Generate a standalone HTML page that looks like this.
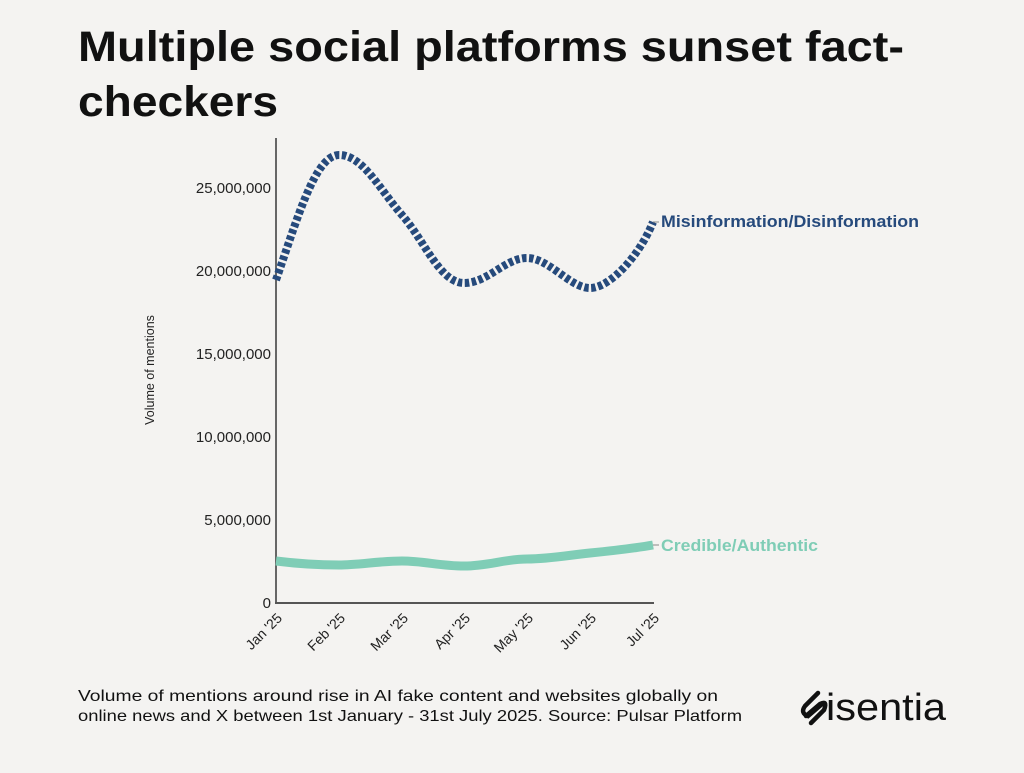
<!DOCTYPE html>
<html><head><meta charset="utf-8"><style>
body{margin:0;background:#f4f3f1;width:1024px;height:768px;overflow:hidden;font-family:"Liberation Sans",sans-serif}
</style></head><body>
<svg width="1024" height="768" viewBox="0 0 1024 768" xmlns="http://www.w3.org/2000/svg">
<rect width="1024" height="768" fill="#f4f3f1"/>
<text x="78" y="61" font-size="43" font-weight="bold" fill="#111" textLength="826" lengthAdjust="spacingAndGlyphs">Multiple social platforms sunset fact-</text>
<text x="78" y="116" font-size="43" font-weight="bold" fill="#111" textLength="200" lengthAdjust="spacingAndGlyphs">checkers</text>
<g font-size="15" fill="#222" text-anchor="end">
<text x="271" y="193">25,000,000</text>
<text x="271" y="276">20,000,000</text>
<text x="271" y="359">15,000,000</text>
<text x="271" y="442">10,000,000</text>
<text x="271" y="525">5,000,000</text>
<text x="271" y="608">0</text>
</g>
<text transform="translate(154,370) rotate(-90)" font-size="12.5" fill="#222" text-anchor="middle">Volume of mentions</text>
<line x1="276" y1="138" x2="276" y2="604" stroke="#666" stroke-width="2"/>
<line x1="275" y1="603" x2="654" y2="603" stroke="#555" stroke-width="2"/>
<g font-size="14" fill="#222" text-anchor="end">
<text transform="translate(283,619) rotate(-45)">Jan '25</text>
<text transform="translate(346,619) rotate(-45)">Feb '25</text>
<text transform="translate(409,619) rotate(-45)">Mar '25</text>
<text transform="translate(471,619) rotate(-45)">Apr '25</text>
<text transform="translate(534,619) rotate(-45)">May '25</text>
<text transform="translate(597,619) rotate(-45)">Jun '25</text>
<text transform="translate(660,619) rotate(-45)">Jul '25</text>
</g>
<path d="M276,280 C297,220 315,155 339,155 S380,190 402,215 S440,283 464,283 S505,258 527,258 S570,288 590,288 S640,255 653,222" fill="none" stroke="#264a7c" stroke-width="8" stroke-dasharray="4.5 2.5"/>
<path d="M276,561 C300,564 320,565 339,565 S380,561 402,561 S440,566 464,566 S505,559 527,559 S570,555 590,553 S630,549 653,545" fill="none" stroke="#7fcdb6" stroke-width="9"/>
<line x1="653" y1="222" x2="659" y2="222" stroke="#888"/>
<line x1="653" y1="545" x2="659" y2="545" stroke="#888"/>
<text x="661" y="227" font-size="16.5" font-weight="bold" fill="#264a7c" textLength="258" lengthAdjust="spacingAndGlyphs">Misinformation/Disinformation</text>
<text x="661" y="551" font-size="16.5" font-weight="bold" fill="#7fcdb6" textLength="157" lengthAdjust="spacingAndGlyphs">Credible/Authentic</text>
<text x="78" y="701" font-size="16" fill="#111" textLength="640" lengthAdjust="spacingAndGlyphs">Volume of mentions around rise in AI fake content and websites globally on</text>
<text x="78" y="721" font-size="16" fill="#111" textLength="664" lengthAdjust="spacingAndGlyphs">online news and X between 1st January - 31st July 2025. Source: Pulsar Platform</text>
<g stroke="#111" stroke-width="4.5" fill="none" stroke-linecap="round">
<path d="M818,693 L805,706 Q800,713 808,716 L822,704"/>
<path d="M806,716 L820,704 Q828,700 824,710 L811,723"/>
</g>
<text x="826" y="720" font-size="38" fill="#111" textLength="120" lengthAdjust="spacingAndGlyphs">isentia</text>
</svg>
</body></html>
